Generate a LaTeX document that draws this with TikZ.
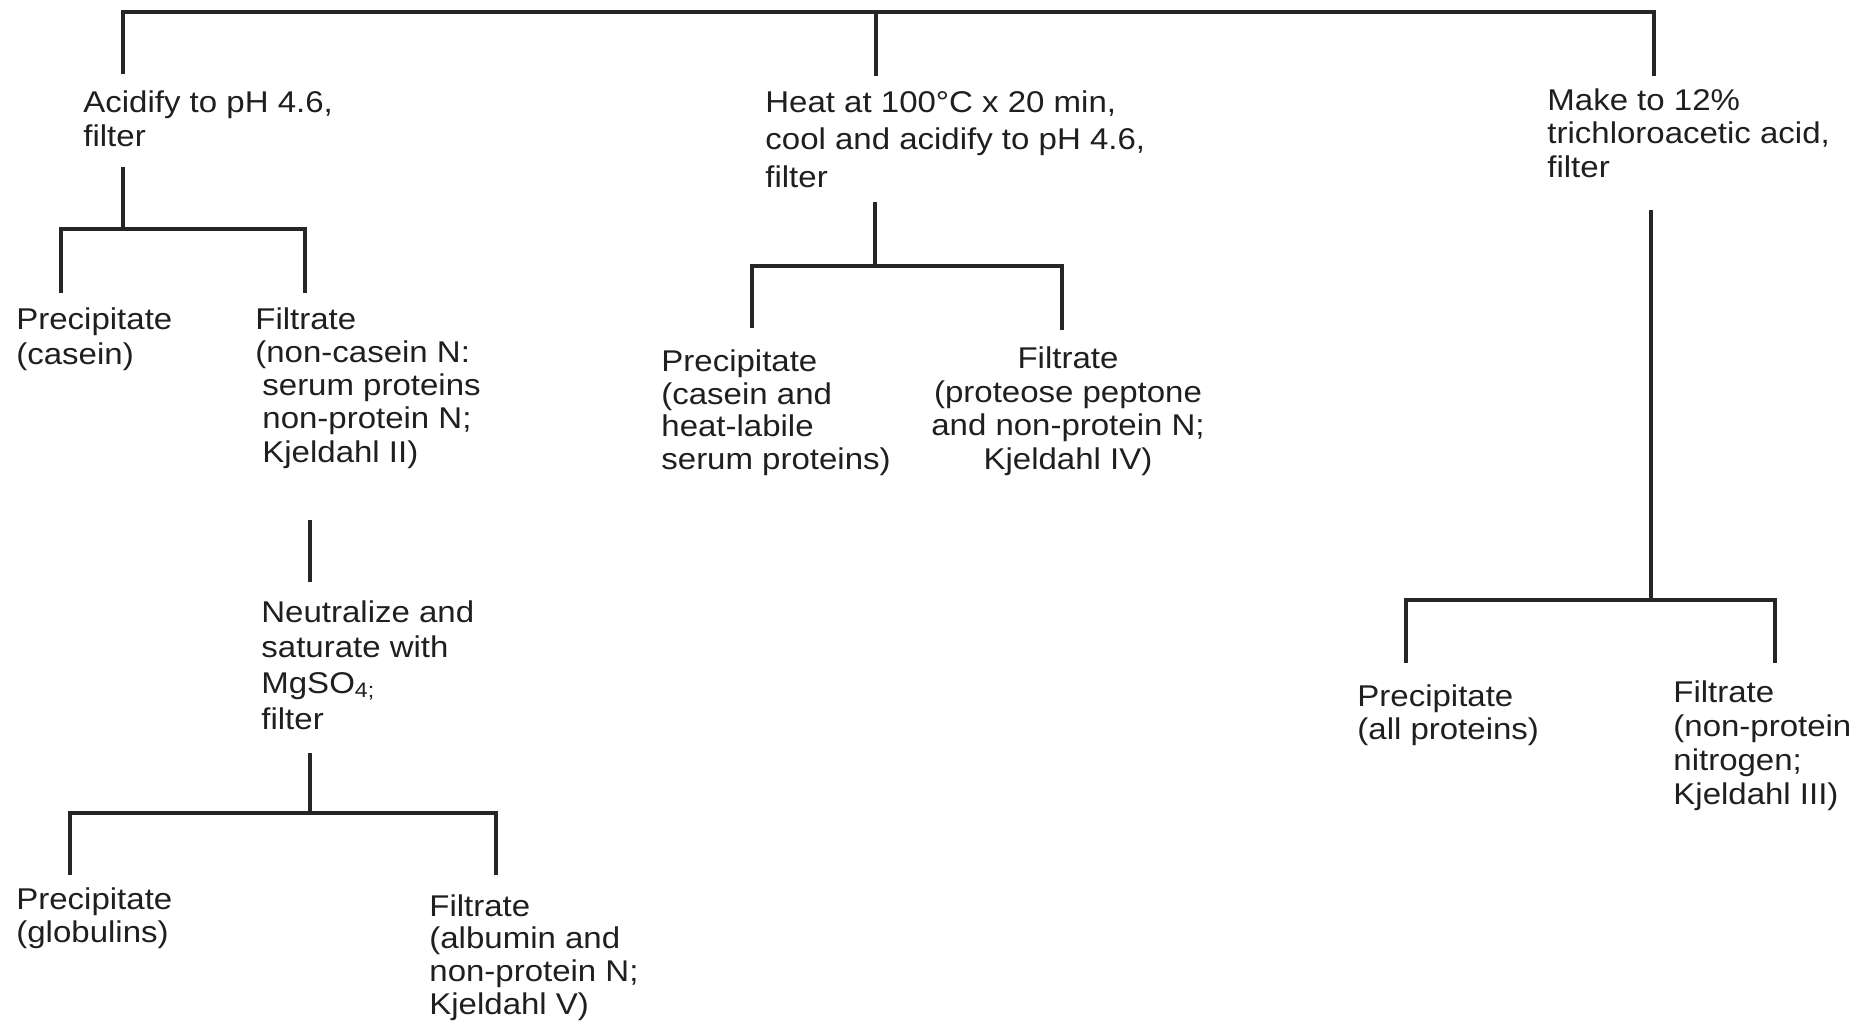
\documentclass[tikz,border=0pt]{standalone}
\usepackage{fontspec}
\setmainfont{Liberation Sans}[FakeStretch=1.1]
\begin{document}
\begin{tikzpicture}[x=0.5pt,y=-0.5pt,
  lbl/.style={inner sep=0pt, anchor=base west, align=left, text=black!88, font=\fontsize{15}{17}\selectfont},
  vline/.style={line width=2pt, draw=black!85},
  hbar/.style={line width=2.4pt, draw=black!85, line join=miter}]
\useasboundingbox (0,0) rectangle (1868,1025);
\fill[white] (0,0) rectangle (1868,1025);

% text nodes (positioned at the baseline of their last line)
\node[lbl, font=\fontsize{15}{17}\selectfont] (acid) at (83,146) {Acidify to pH 4.6,\\filter};
\node[lbl, font=\fontsize{15}{18.75}\selectfont] (heat) at (765,187) {Heat at 100°C x 20 min,\\cool and acidify to pH 4.6,\\filter};
\node[lbl, font=\fontsize{15}{16.6}\selectfont] (tca) at (1547,177) {Make to 12\%\\trichloroacetic acid,\\filter};
\node[lbl, font=\fontsize{15}{17.3}\selectfont] (p1) at (16,364) {Precipitate\\(casein)};
\node[lbl, font=\fontsize{15}{16.6}\selectfont] (f1) at (255,462) {Filtrate\\(non-casein N:\\\hspace*{3.5pt}serum proteins\\\hspace*{3.5pt}non-protein N;\\\hspace*{3.5pt}Kjeldahl II)};
\node[lbl, font=\fontsize{15}{16.2}\selectfont] (p2) at (661,469) {Precipitate\\(casein and\\heat-labile\\serum proteins)};
\node[lbl, anchor=base, align=center, font=\fontsize{15}{16.7}\selectfont] (f2) at (1068,469) {Filtrate\\(proteose peptone\\and non-protein N;\\Kjeldahl IV)};
\node[lbl, font=\fontsize{15}{17.8}\selectfont] (neut) at (261,729) {Neutralize and\\saturate with\\MgSO\textsubscript{4;}\\filter};
\node[lbl, font=\fontsize{15}{16.5}\selectfont] (p3) at (16,942) {Precipitate\\(globulins)};
\node[lbl, font=\fontsize{15}{16.3}\selectfont] (f3) at (429,1014) {Filtrate\\(albumin and\\non-protein N;\\Kjeldahl V)};
\node[lbl, font=\fontsize{15}{16.5}\selectfont] (p4) at (1357,739) {Precipitate\\(all proteins)};
\node[lbl, font=\fontsize{15}{17}\selectfont] (f4) at (1673,804) {Filtrate\\(non-protein\\nitrogen;\\Kjeldahl III)};

% coordinates
\coordinate (tL) at (123,12);
\coordinate (tM) at (876,12);
\coordinate (tR) at (1654,12);
\coordinate (aL) at (123,74);
\coordinate (aM) at (876,76);
\coordinate (aR) at (1654,76);

\coordinate (b1) at (123,167);
\coordinate (j1) at (123,229);
\coordinate (j1l) at (61,229);
\coordinate (j1r) at (305,229);
\coordinate (e1l) at (61,293);
\coordinate (e1r) at (305,293);

\coordinate (b2) at (310,520);
\coordinate (c2) at (310,582);
\coordinate (b3) at (310,753);
\coordinate (j3) at (310,813);
\coordinate (j3l) at (70,813);
\coordinate (j3r) at (496,813);
\coordinate (e3l) at (70,875);
\coordinate (e3r) at (496,875);

\coordinate (b4) at (875,202);
\coordinate (j4) at (875,266);
\coordinate (j4l) at (752,266);
\coordinate (j4r) at (1062,266);
\coordinate (e4l) at (752,328);
\coordinate (e4r) at (1062,330);

\coordinate (b5) at (1651,210);
\coordinate (j5) at (1651,600);
\coordinate (j5l) at (1406,600);
\coordinate (j5r) at (1775,600);
\coordinate (e5l) at (1406,663);
\coordinate (e5r) at (1775,663);

% connectors
\draw[vline] (aL) -- (tL) -- (tR) -- (aR);
\draw[vline] (tM) -- (aM);

\draw[vline] (b1) -- (j1);
\draw[hbar] (e1l) -- (j1l) -- (j1r) -- (e1r);

\draw[vline] (b2) -- (c2);
\draw[vline] (b3) -- (j3);
\draw[hbar] (e3l) -- (j3l) -- (j3r) -- (e3r);

\draw[vline] (b4) -- (j4);
\draw[hbar] (e4l) -- (j4l) -- (j4r) -- (e4r);

\draw[vline] (b5) -- (j5);
\draw[hbar] (e5l) -- (j5l) -- (j5r) -- (e5r);
\end{tikzpicture}
\end{document}
